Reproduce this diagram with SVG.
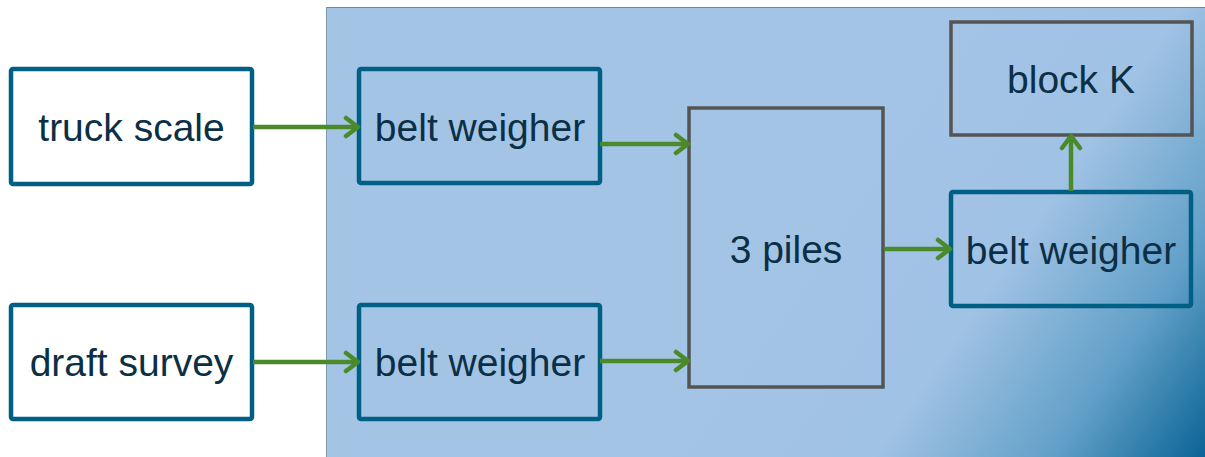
<svg xmlns="http://www.w3.org/2000/svg" width="1205" height="457" viewBox="0 0 1205 457">
<defs>
<linearGradient id="bg" gradientUnits="userSpaceOnUse" x1="830" y1="200" x2="1205" y2="457">
<stop offset="0" stop-color="#a4c4e6"/>
<stop offset="0.4" stop-color="#a0c2e4"/>
<stop offset="0.72" stop-color="#62a0c8"/>
<stop offset="1" stop-color="#0a6496"/>
</linearGradient>
<marker id="ah" markerUnits="userSpaceOnUse" markerWidth="24" markerHeight="24" refX="20" refY="12" orient="auto">
<path d="M8,3 L20,12 L8,21" fill="none" stroke="#4b8a2b" stroke-width="4.5" stroke-linecap="round" stroke-linejoin="round"/>
</marker>
</defs>
<style>
.blue{fill:none;stroke:#005f85;stroke-width:4.5}
.gray{fill:none;stroke:#545454;stroke-width:3.5}
.wh{fill:#ffffff}
.t{font-family:"Liberation Sans",Arial,sans-serif;font-size:39px;fill:#0b2f45;text-anchor:middle}
.c{fill:none;stroke:#4b8a2b;stroke-width:4.5;marker-end:url(#ah)}
</style>
<rect x="0" y="0" width="1205" height="457" fill="#ffffff"/>
<g id="panel">
<rect x="326" y="7" width="879" height="450" fill="url(#bg)"/>
<line x1="326" y1="7.5" x2="1205" y2="7.5" stroke="#5a8fb0" stroke-width="1"/>
<line x1="326.5" y1="7" x2="326.5" y2="457" stroke="#7a9ab5" stroke-width="1"/>
</g>
<g id="truck-scale">
<rect class="wh" x="11" y="69" width="241" height="115"/>
<rect class="blue" x="11" y="69" width="241" height="115" rx="2"/>
<text class="t" x="131.5" y="141">truck scale</text>
</g>
<g id="draft-survey">
<rect class="wh" x="11" y="305" width="241" height="114"/>
<rect class="blue" x="11" y="305" width="241" height="114" rx="2"/>
<text class="t" x="131.5" y="376">draft survey</text>
</g>
<g id="belt-weigher-1">
<rect class="blue" x="359" y="69" width="241" height="114" rx="2"/>
<text class="t" x="480" y="141">belt weigher</text>
</g>
<g id="belt-weigher-2">
<rect class="blue" x="359" y="305" width="241" height="114" rx="2"/>
<text class="t" x="480" y="376">belt weigher</text>
</g>
<g id="piles">
<rect class="gray" x="689" y="108" width="194" height="279"/>
<text class="t" x="786" y="263">3 piles</text>
</g>
<g id="belt-weigher-3">
<rect class="blue" x="951" y="192" width="240" height="114" rx="2"/>
<text class="t" x="1071" y="264">belt weigher</text>
</g>
<g id="block-k">
<rect class="gray" x="951" y="22" width="241" height="113"/>
<text class="t" x="1071" y="93">block K</text>
</g>
<g id="connectors">
<line class="c" x1="253" y1="127" x2="358" y2="127"/>
<line class="c" x1="600" y1="144" x2="688" y2="144"/>
<line class="c" x1="253" y1="362" x2="358" y2="362"/>
<line class="c" x1="600" y1="361" x2="688" y2="361"/>
<line class="c" x1="884" y1="249" x2="950" y2="249"/>
<line class="c" x1="1071" y1="191" x2="1071" y2="136"/>
</g>
</svg>
